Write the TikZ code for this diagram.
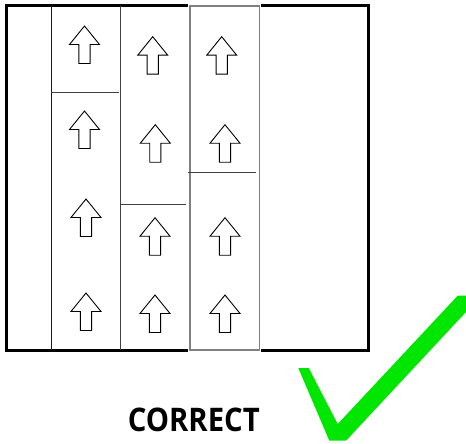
\documentclass[tikz,border=0pt]{standalone}
\usepackage{fontspec}
\newfontfamily\labelfont{Open Sans}
\tikzset{
  px/.style={x=1pt,y=-1pt},
  outerbox/.style={draw=black,line width=3pt},
  divline/.style={draw=black!75,line width=1.1pt},
  colbox/.style={draw=black!50,line width=1.1pt,fill=white},
  arrowshape/.style={draw=black,line width=0.9pt,fill=white,line join=miter},
  checkfill/.style={fill={rgb,255:red,0;green,230;blue,0},draw=none},
  label/.style={font=\labelfont\bfseries\fontsize{32.5}{36}\selectfont,inner sep=0pt,xscale=0.9},
  pics/uparrow/.style={code={
    \path[arrowshape] (-5.6,37.5) -- (-5.6,18.5) -- (-15,18.5) -- (0,0) -- (15,18.5) -- (5.6,18.5) -- (5.6,37.5) -- cycle;
  }}
}
\begin{document}
\begin{tikzpicture}[px]
\useasboundingbox (0,0) rectangle (466,444);
% outer frame
\draw[outerbox] (6,6) rectangle (368,350);
% column 3 overlay box
\fill[white] (188,2) rectangle (261.2,354);
\draw[colbox] (190,6) rectangle (259.7,350);
% vertical dividers
\draw[divline,draw=black!90] (51.3,6) -- (51.3,350);
\draw[divline] (120.3,6) -- (120.3,350);
% horizontal dividers
\draw[divline] (50.5,92.7) -- (119,92.7);
\draw[divline] (119.5,204.7) -- (186,204.7);
\draw[divline] (188.3,172.7) -- (255.7,172.7);
% arrows column 1
\pic at (84.5,26) {uparrow};
\pic at (84.5,111) {uparrow};
\pic at (86,199) {uparrow};
\pic at (86,293) {uparrow};
% arrows column 2
\pic at (152.7,36.7) {uparrow};
\pic at (155.3,124.7) {uparrow};
\pic at (155,217.7) {uparrow};
\pic at (155,295) {uparrow};
% arrows column 3
\pic at (221.7,36.7) {uparrow};
\pic at (225,124.7) {uparrow};
\pic at (225,217.7) {uparrow};
\pic at (225,295) {uparrow};
% label
\node[label] (lbl) at (193.8,419.9) {CORRECT};
% check mark
\fill[checkfill] (298.3,368) -- (308.7,368) -- (337.7,424) -- (457.7,295.7) -- (466,295.7) -- (466,312) -- (346,440.7) -- (329.3,440.7) -- cycle;
\end{tikzpicture}
\end{document}
